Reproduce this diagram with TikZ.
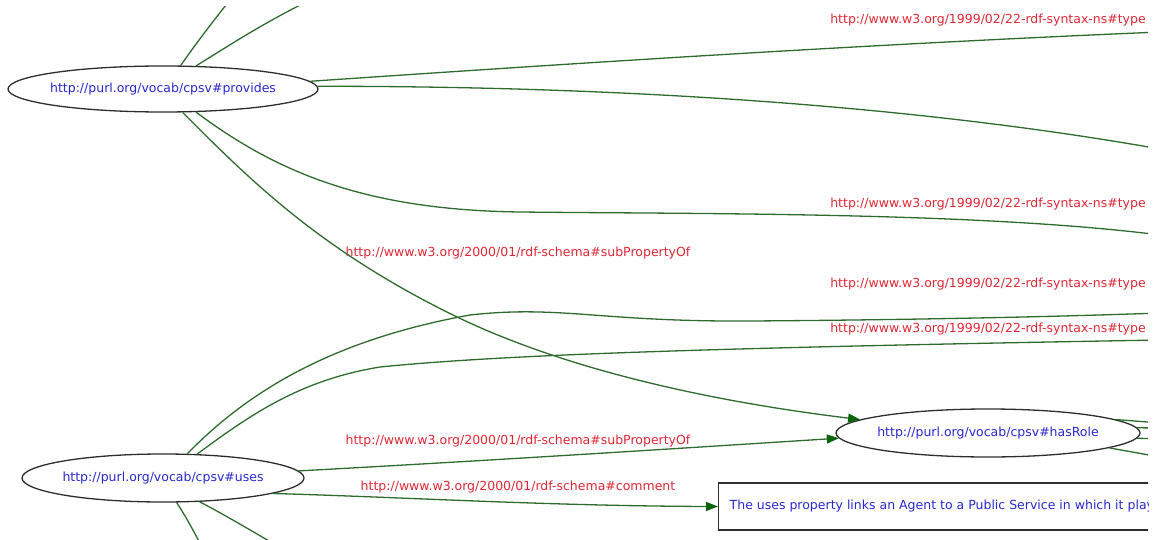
\documentclass[tikz,border=0pt]{standalone}
\usepackage{fontspec}
\setmainfont{DejaVu Sans}
\usetikzlibrary{shapes.geometric,arrows.meta}
\definecolor{edgegreen}{RGB}{46,108,46}
\definecolor{tipgreen}{RGB}{10,100,10}
\definecolor{labred}{RGB}{222,40,52}
\definecolor{nodeblue}{RGB}{40,40,205}
\definecolor{outline}{RGB}{45,45,45}
\newcommand{\fitlabel}[1]{\makebox[150pt]{#1}}
\tikzset{
  prop/.style={ellipse, draw=outline, line width=1.3pt, inner sep=0pt, text=nodeblue,
    font=\fontsize{12.5}{15}\selectfont},
  litbox/.style={rectangle, draw=outline, line width=1.4pt, inner xsep=11pt, inner ysep=0pt,
    minimum height=47pt, text=nodeblue, font=\fontsize{12.5}{15}\selectfont, anchor=west},
  elabel/.style={text=labred, inner sep=0pt, font=\fontsize{12.5}{15}\selectfont},
  edge/.style={draw=edgegreen, line width=1.3pt},
  arr/.style={edge, -{Triangle[length=12pt,width=9pt,fill=tipgreen,color=tipgreen]}},
}
\begin{document}
\begin{tikzpicture}[x=1pt,y=-1pt]
\useasboundingbox (0,0) rectangle (1158,540);
\begin{scope}
\clip (0,7) rectangle (1148,541);
% nodes
\node[prop, minimum width=310pt, minimum height=46pt] (P) at (163,89) {\fitlabel{http://purl.org/vocab/cpsv\#provides}};
\node[prop, minimum width=282pt, minimum height=48pt] (U) at (163,478) {\fitlabel{http://purl.org/vocab/cpsv\#uses}};
\node[prop, minimum width=304pt, minimum height=48pt] (H) at (988,433) {\fitlabel{http://purl.org/vocab/cpsv\#hasRole}};
\node[litbox] (B) at (718,506.5) {The uses property links an Agent to a Public Service in which it plays a role.};
% labels
\node[elabel] (l1) at (988,20.5) {http://www.w3.org/1999/02/22-rdf-syntax-ns\#type};
\node[elabel] (l2) at (988,204.5) {http://www.w3.org/1999/02/22-rdf-syntax-ns\#type};
\node[elabel] (l3) at (988,284.5) {http://www.w3.org/1999/02/22-rdf-syntax-ns\#type};
\node[elabel] (l4) at (988,329.5) {http://www.w3.org/1999/02/22-rdf-syntax-ns\#type};
\node[elabel] (s1) at (518,253) {http://www.w3.org/2000/01/rdf-schema\#subPropertyOf};
\node[elabel] (s2) at (518,441) {http://www.w3.org/2000/01/rdf-schema\#subPropertyOf};
\node[elabel] (c1) at (518,487.5) {http://www.w3.org/2000/01/rdf-schema\#comment};
% exit coordinates
\coordinate (t1) at (230,0);
\coordinate (t2) at (310,0);
\coordinate (r1) at (1160,32);
\coordinate (r2) at (1160,149);
\coordinate (r3) at (1160,235);
\coordinate (r4) at (1160,313);
\coordinate (r5) at (1160,340);
\coordinate (h1) at (1160,423);
\coordinate (h2) at (1160,428);
\coordinate (h3) at (1160,439);
\coordinate (h4) at (1160,457);
\coordinate (b1) at (201,545);
\coordinate (b2) at (276,545);
% edges from provides
\draw[edge] (P.53.5) .. controls (195,45) and (210,25) .. (t1);
\draw[edge] (P.35) .. controls (230,45) and (260,25) .. (t2);
\draw[edge] (P.3.5) .. controls (550,65) and (850,45) .. (r1);
\draw[edge] (P.1) .. controls (600,86) and (900,103) .. (r2);
\draw[edge] (P.-35) .. controls (280,175) and (370,210) .. (520,212)
  .. controls (700,214) and (980,212) .. (r3);
\draw[arr] (P.-50) .. controls (250,180) and (320,250) .. (455,316)
  .. controls (560,367) and (700,400) .. (H.174);
% edges from uses
\draw[edge] (U.45) .. controls (240,400) and (320,342) .. (470,315)
  .. controls (560,305) and (600,322) .. (750,321)
  .. controls (900,320) and (1050,317) .. (r4);
\draw[edge] (U.35) .. controls (250,415) and (300,380) .. (380,367)
  .. controls (500,355) and (700,348) .. (r5);
\draw[arr] (U.3) .. controls (500,460) and (700,447) .. (H.182.7);
\draw[arr] (U.-8) .. controls (400,497) and (550,506) .. (B.west);
\draw[edge] (U.-61) .. controls (185,515) and (193,530) .. (b1);
\draw[edge] (U.-33) .. controls (225,515) and (250,530) .. (b2);
% edges from hasRole
\draw[edge] (H.6.4) -- (h1);
\draw[edge] (H.2) -- (h2);
\draw[edge] (H.-2.7) -- (h3);
\draw[edge] (H.-7.4) -- (h4);
\end{scope}
\end{tikzpicture}
\end{document}
